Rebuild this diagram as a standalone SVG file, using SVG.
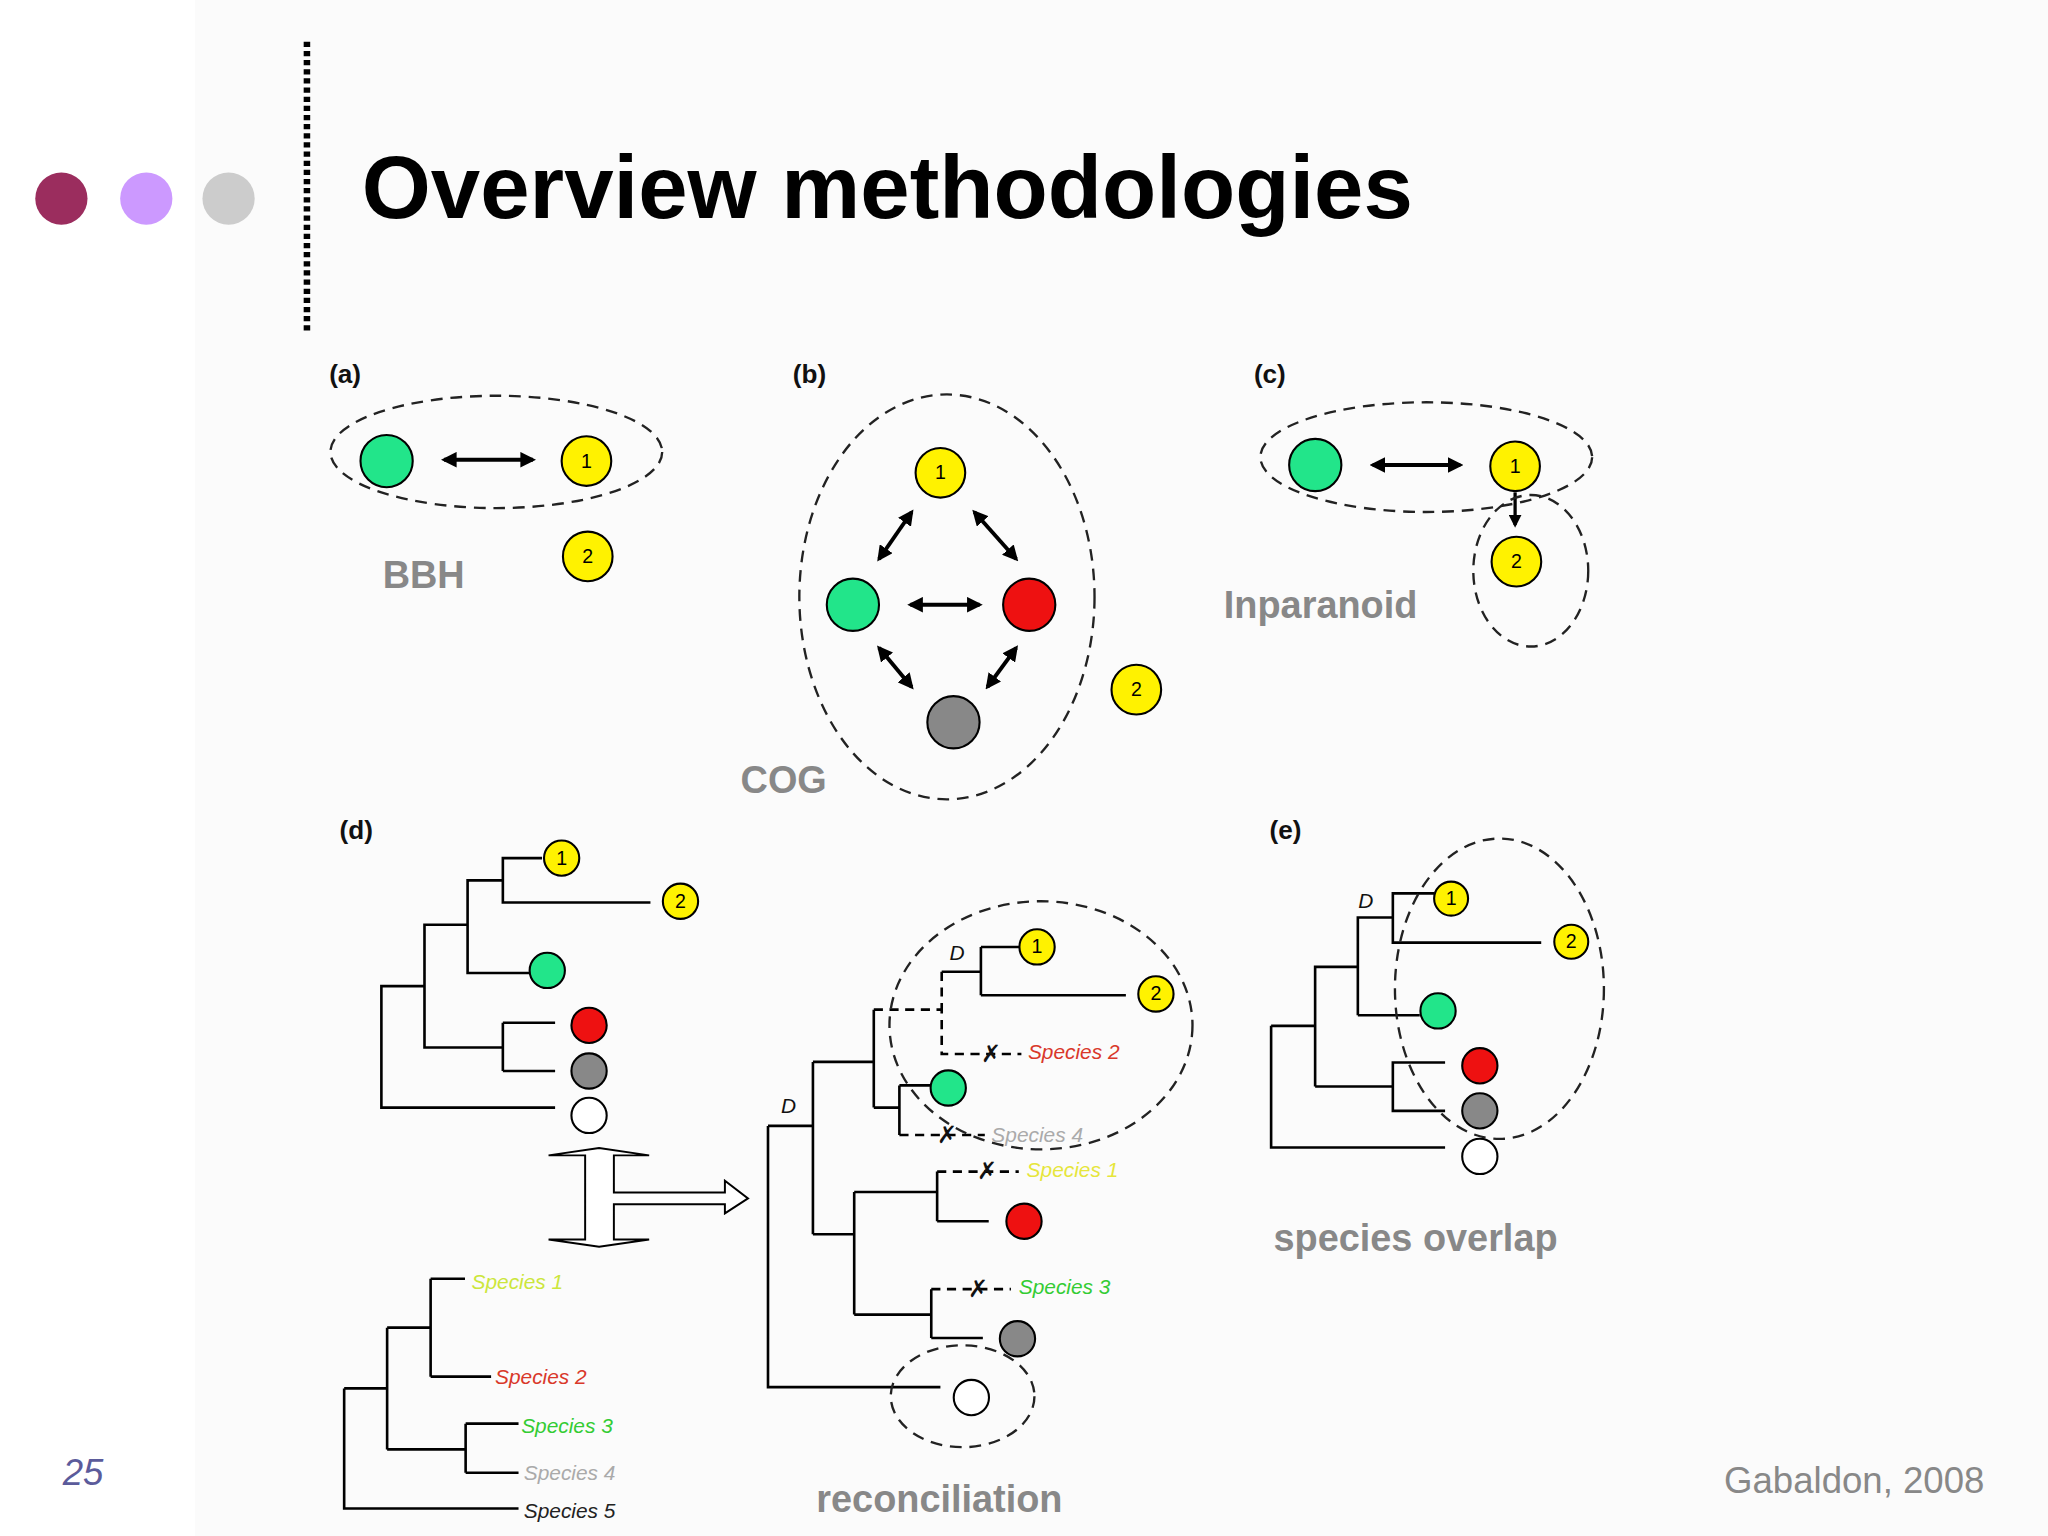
<svg xmlns="http://www.w3.org/2000/svg" width="2048" height="1536" viewBox="0 0 2048 1536">
<style>
.n{stroke:#000;stroke-width:1.6}
.y{fill:#FFF200}.g{fill:#22E58A}.r{fill:#EE1111}.k{fill:#888}.w{fill:#fff}
.num{font:15px "Liberation Sans",Arial,sans-serif;text-anchor:middle;fill:#000}
.lab{font:bold 20px "Liberation Sans",Arial,sans-serif;fill:#111}
.big{font:bold 29px "Liberation Sans",Arial,sans-serif;fill:#888}
.t{fill:none;stroke:#000;stroke-width:2}
.td{fill:none;stroke:#000;stroke-width:2;stroke-dasharray:7 5}
.el{fill:none;stroke:#222;stroke-width:1.8;stroke-dasharray:9 6}
.sp{font:italic 16px "Liberation Sans",Arial,sans-serif}
.D{font:italic 16px "Liberation Sans",Arial,sans-serif;fill:#111}
.x{font:18px "Liberation Sans",Arial,sans-serif;fill:#111;text-anchor:middle}
.ar{stroke:#000;stroke-width:3;marker-start:url(#ah);marker-end:url(#ah)}
</style>
<defs>
<marker id="ah" viewBox="0 0 10 10" refX="8" refY="5" markerWidth="4" markerHeight="4" orient="auto-start-reverse"><path d="M0,0L10,5L0,10z" fill="#000"/></marker>
<marker id="ah1" viewBox="0 0 10 10" refX="8" refY="5" markerWidth="4" markerHeight="4" orient="auto"><path d="M0,0L10,5L0,10z" fill="#000"/></marker>
</defs>
<rect width="2048" height="1536" fill="#fff"/>
<rect x="195" y="0" width="1853" height="1536" fill="#fbfbfb"/>
<g transform="scale(1.30612)">
<g id="header">
<circle cx="47" cy="152" r="20" fill="#9B2D5E"/>
<circle cx="112" cy="152" r="20" fill="#CC99FF"/>
<circle cx="175" cy="152" r="20" fill="#CCCCCC"/>
<line x1="235" y1="32" x2="235" y2="253" stroke="#000" stroke-width="5" stroke-dasharray="4 3"/>
<text x="277" y="167" font-family="Liberation Sans,Arial,sans-serif" font-weight="bold" font-size="68" fill="#000">Overview methodologies</text>
<text x="48" y="1137" font-family="Liberation Sans,Arial,sans-serif" font-style="italic" font-size="28" fill="#5B5B9B">25</text>
<text x="1320" y="1143" font-family="Liberation Sans,Arial,sans-serif" font-size="28" fill="#888">Gabaldon, 2008</text>
</g>
<g id="connectors">
<line class="ar" x1="340" y1="352" x2="408" y2="352"/>
<line class="ar" x1="698" y1="392" x2="673" y2="428"/>
<line class="ar" x1="746" y1="392" x2="778" y2="428"/>
<line class="ar" x1="697" y1="463" x2="750" y2="463"/>
<line class="ar" x1="673" y1="496" x2="698" y2="526"/>
<line class="ar" x1="778" y1="496" x2="756" y2="526"/>
<line class="ar" x1="1051" y1="356" x2="1118" y2="356"/>
<line x1="1160" y1="377" x2="1160" y2="402" stroke="#000" stroke-width="2.5" marker-end="url(#ah1)"/>
<path class="t" d="M415,657H385V691H498M385,674H358V745H405M358,708H325V802H385M385,783V820M385,783H425M385,820H425M325,755H292V848H425M292,755H325"/>
<path d="M458.7,879L420,884.6H448V949H420L458.7,954.5L497,949H470V922H555V929L572.7,917.5L555,904V913H470V884.6H497Z" fill="#fff" stroke="#000" stroke-width="1.5"/>
<path class="t" d="M263.5,1063V1155H397M263.5,1063H296.4M296.4,1016.5V1109.7M296.4,1016.5H329.7M329.7,979V1054M329.7,979H356M329.7,1054H376M296.4,1109.7H356.5M356.5,1090V1127.6M356.5,1090H397M356.5,1127.6H397"/>
<path class="t" d="M588,862V1062H720M588,862H622.4M622.4,813V945M622.4,813H669M669,773V848M669,848H688.6M688.6,831V869M688.6,831H712.7M721,744H751M751,725V762M751,725H784M751,762H862M622.4,945H654M654,912.6V1006.5M654,912.6H717.5M717.5,897V935M717.5,935H757M654,1006.5H713M713,987V1024.4M713,1024.4H752.5"/>
<path class="td" d="M669,773H721V807H782M721,744V773M688.6,869H754M717.5,897H780M713,987H774"/>
<path class="t" d="M973.2,785.4V878.6H1106.4M973.2,785.4H1006.9V740.3H1039.6V702.5H1066.4V684H1098M1066.4,702.5V721.7H1180M1039.6,777.3H1087M1039.6,702.5V777.3M1006.9,831.9H1066.4V813.5H1106.4M1066.4,831.9V850.5H1106.4M1006.9,740.3V831.9"/>
</g>
<g id="panel-a">
<text class="lab" x="252" y="293">(a)</text>
<ellipse class="el" cx="380" cy="346" rx="127" ry="43"/>
<circle class="n g" cx="296" cy="353" r="20"/>
<circle class="n y" cx="449" cy="353" r="19"/><text class="num" x="449" y="358">1</text>
<circle class="n y" cx="450" cy="426" r="19"/><text class="num" x="450" y="431">2</text>
<text class="big" x="293" y="450">BBH</text>
</g>
<g id="panel-b">
<text class="lab" x="607" y="293">(b)</text>
<ellipse class="el" cx="725" cy="457" rx="113" ry="155"/>
<circle class="n y" cx="720" cy="362" r="19"/><text class="num" x="720" y="367">1</text>
<circle class="n g" cx="653" cy="463" r="20"/>
<circle class="n r" cx="788" cy="463" r="20"/>
<circle class="n k" cx="730" cy="553" r="20"/>
<circle class="n y" cx="870" cy="528" r="19"/><text class="num" x="870" y="533">2</text>
<text class="big" x="567" y="607">COG</text>
</g>
<g id="panel-c">
<text class="lab" x="960" y="293">(c)</text>
<ellipse class="el" cx="1092" cy="350" rx="127" ry="42"/>
<ellipse class="el" cx="1172" cy="437" rx="44" ry="58"/>
<circle class="n g" cx="1007" cy="356" r="20"/>
<circle class="n y" cx="1160" cy="357" r="19"/><text class="num" x="1160" y="362">1</text>
<circle class="n y" cx="1161" cy="430" r="19"/><text class="num" x="1161" y="435">2</text>
<text class="big" x="937" y="473">Inparanoid</text>
</g>
<g id="panel-d">
<text class="lab" x="260" y="642">(d)</text>
<circle class="n y" cx="430" cy="657" r="13.5"/><text class="num" x="430" y="662">1</text>
<circle class="n y" cx="521" cy="690" r="13.5"/><text class="num" x="521" y="695">2</text>
<circle class="n g" cx="419" cy="743" r="13.5"/>
<circle class="n r" cx="451" cy="785" r="13.5"/>
<circle class="n k" cx="451" cy="820" r="13.5"/>
<circle class="n w" cx="451" cy="854" r="13.5"/>
<text class="sp" x="361" y="987" fill="#CCE63C">Species 1</text>
<text class="sp" x="379" y="1060" fill="#D9382A">Species 2</text>
<text class="sp" x="399" y="1097" fill="#33CC33">Species 3</text>
<text class="sp" x="401" y="1133" fill="#AAAAAA">Species 4</text>
<text class="sp" x="401" y="1162" fill="#222">Species 5</text>
<ellipse class="el" cx="797" cy="785" rx="116" ry="95"/>
<ellipse class="el" cx="737" cy="1069" rx="55" ry="39"/>
<text class="D" x="598" y="852">D</text>
<text class="D" x="727" y="735">D</text>
<circle class="n y" cx="794" cy="725" r="13.5"/><text class="num" x="794" y="730">1</text>
<circle class="n y" cx="885" cy="761" r="13.5"/><text class="num" x="885" y="766">2</text>
<circle class="n g" cx="726" cy="833" r="13.5"/>
<circle class="n r" cx="784" cy="935" r="13.5"/>
<circle class="n k" cx="779" cy="1025" r="13.5"/>
<circle class="n w" cx="743.7" cy="1070" r="13.5"/>
<text class="x" x="759" y="813">✗</text><text class="sp" x="787" y="811" fill="#D9382A">Species 2</text>
<text class="x" x="725" y="875">✗</text><text class="sp" x="759" y="874" fill="#AAAAAA">Species 4</text>
<text class="x" x="756" y="903">✗</text><text class="sp" x="786" y="901" fill="#E6E63C">Species 1</text>
<text class="x" x="749" y="993">✗</text><text class="sp" x="780" y="991" fill="#33CC33">Species 3</text>
<text class="big" x="625" y="1158">reconciliation</text>
</g>
<g id="panel-e">
<text class="lab" x="972" y="642">(e)</text>
<text class="D" x="1040" y="695">D</text>
<ellipse class="el" cx="1148" cy="757" rx="80" ry="115"/>
<circle class="n y" cx="1111" cy="688" r="13"/><text class="num" x="1111" y="693">1</text>
<circle class="n y" cx="1203" cy="721" r="13"/><text class="num" x="1203" y="726">2</text>
<circle class="n g" cx="1101" cy="774" r="13.5"/>
<circle class="n r" cx="1133" cy="816" r="13.5"/>
<circle class="n k" cx="1133" cy="850.5" r="13.5"/>
<circle class="n w" cx="1133" cy="885.4" r="13.5"/>
<text class="big" x="975" y="958">species overlap</text>
</g>
</g>
</svg>
